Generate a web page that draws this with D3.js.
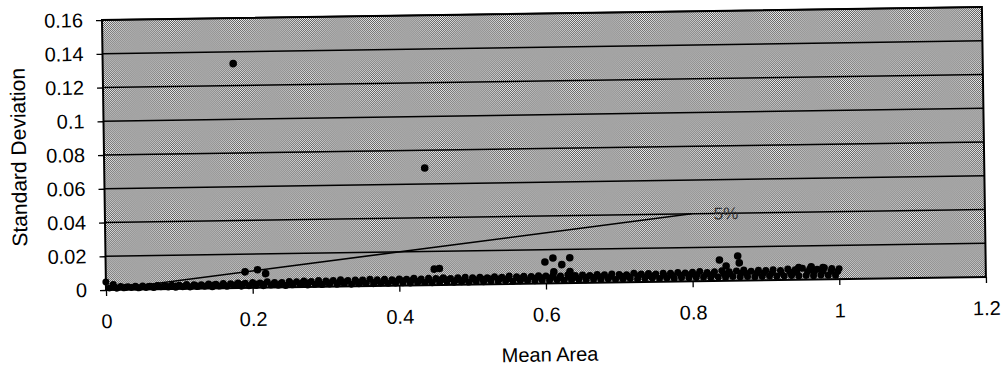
<!DOCTYPE html>
<html>
<head>
<meta charset="utf-8">
<script src="https://cdn.jsdelivr.net/npm/d3@7/dist/d3.min.js"></script>
<style>
  html, body { margin: 0; padding: 0; background: #fff; }
  svg { display: block; font-family: "Liberation Sans", Arial, sans-serif; }
</style>
</head>
<body>
<svg id="chart" width="1006" height="370"></svg>
<script>
// ---- data ----
const xTicks = [0, 0.2, 0.4, 0.6, 0.8, 1, 1.2];
const xTickLabels = ["0", "0.2", "0.4", "0.6", "0.8", "1", "1.2"];
const yTicks = [0, 0.02, 0.04, 0.06, 0.08, 0.1, 0.12, 0.14, 0.16];
const yTickLabels = ["0", "0.02", "0.04", "0.06", "0.08", "0.1", "0.12", "0.14", "0.16"];

// dense band of points, upper edge
const upperX = [0.00,0.01,0.02,0.03,0.04,0.05,0.06,0.07,0.08,0.09,
  0.10,0.11,0.12,0.13,0.14,0.15,0.16,0.17,0.18,0.19,
  0.20,0.21,0.22,0.23,0.24,0.25,0.26,0.27,0.28,0.29,
  0.30,0.31,0.32,0.33,0.34,0.35,0.36,0.37,0.38,0.39,
  0.40,0.41,0.42,0.43,0.44,0.45,0.46,0.47,0.48,0.49,
  0.50,0.51,0.52,0.53,0.54,0.55,0.56,0.57,0.58,0.59,
  0.60,0.61,0.62,0.63,0.64,0.65,0.66,0.67,0.68,0.69,
  0.70,0.71,0.72,0.73,0.74,0.75,0.76,0.77,0.78,0.79,
  0.80,0.81,0.82,0.83,0.84,0.85,0.86,0.87,0.88,0.89,
  0.90,0.91,0.92,0.93,0.94,0.95,0.96,0.97,0.98,0.99,1.00];
const upperY = [0.0048,0.0032,0.0020,0.0018,0.0019,0.0021,0.0018,0.0022,0.0020,0.0023,
  0.0022,0.0025,0.0024,0.0023,0.0027,0.0025,0.0028,0.0026,0.0030,0.0028,
  0.0031,0.0028,0.0034,0.0030,0.0029,0.0034,0.0032,0.0036,0.0033,0.0038,
  0.0034,0.0037,0.0040,0.0035,0.0038,0.0036,0.0041,0.0037,0.0039,0.0036,
  0.0040,0.0038,0.0042,0.0037,0.0041,0.0039,0.0043,0.0038,0.0041,0.0044,
  0.0040,0.0042,0.0039,0.0044,0.0041,0.0047,0.0042,0.0045,0.0043,0.0046,
  0.0044,0.0048,0.0043,0.0050,0.0045,0.0047,0.0044,0.0049,0.0046,0.0051,
  0.0047,0.0045,0.0053,0.0048,0.0050,0.0046,0.0051,0.0049,0.0054,0.0050,
  0.0053,0.0058,0.0051,0.0055,0.0060,0.0054,0.0057,0.0063,0.0055,0.0059,
  0.0057,0.0061,0.0056,0.0064,0.0059,0.0067,0.0063,0.0060,0.0068,0.0064,0.0062];

// dense band of points, middle
const middleX = [0.012,0.027,0.041,0.058,0.066,0.083,0.097,0.108,0.122,0.139,
  0.147,0.161,0.178,0.186,0.203,0.214,0.229,0.238,0.252,0.267,
  0.274,0.291,0.302,0.318,0.326,0.343,0.351,0.368,0.379,0.392,
  0.404,0.417,0.428,0.441,0.456,0.463,0.479,0.488,0.502,0.514,
  0.523,0.537,0.548,0.563,0.571,0.586,0.594,0.607,0.619,0.632,
  0.641,0.654,0.668,0.676,0.689,0.703,0.712,0.726,0.738,0.747,
  0.761,0.772,0.784,0.797,0.806,0.819,0.828,0.843,0.851,0.866,
  0.874,0.888,0.897,0.909,0.921,0.933,0.942,0.957,0.966,0.978,0.989,0.998];
const middleY = [0.0016,0.0014,0.0015,0.0017,0.0015,0.0016,0.0018,0.0017,0.0019,0.0018,
  0.0020,0.0019,0.0021,0.0020,0.0022,0.0021,0.0023,0.0022,0.0024,0.0023,
  0.0025,0.0024,0.0026,0.0025,0.0027,0.0026,0.0028,0.0027,0.0029,0.0028,
  0.0029,0.0030,0.0029,0.0031,0.0030,0.0032,0.0031,0.0030,0.0032,0.0031,
  0.0033,0.0032,0.0031,0.0034,0.0033,0.0032,0.0035,0.0034,0.0033,0.0036,
  0.0035,0.0034,0.0036,0.0035,0.0037,0.0036,0.0035,0.0038,0.0037,0.0036,
  0.0039,0.0038,0.0037,0.0040,0.0039,0.0041,0.0040,0.0042,0.0041,0.0043,
  0.0042,0.0044,0.0043,0.0045,0.0044,0.0046,0.0045,0.0047,0.0046,0.0048,0.0047,0.0046];

// dense band of points, lower edge
const lowerX = [0.005,0.015,0.025,0.035,0.045,0.055,0.065,0.075,0.085,0.095,
  0.105,0.115,0.125,0.135,0.145,0.155,0.165,0.175,0.185,0.195,
  0.205,0.215,0.225,0.235,0.245,0.255,0.265,0.275,0.285,0.295,
  0.305,0.315,0.325,0.335,0.345,0.355,0.365,0.375,0.385,0.395,
  0.405,0.415,0.425,0.435,0.445,0.455,0.465,0.475,0.485,0.495,
  0.505,0.515,0.525,0.535,0.545,0.555,0.565,0.575,0.585,0.595,
  0.605,0.615,0.625,0.635,0.645,0.655,0.665,0.675,0.685,0.695,
  0.705,0.715,0.725,0.735,0.745,0.755,0.765,0.775,0.785,0.795,
  0.805,0.815,0.825,0.835,0.845,0.855,0.865,0.875,0.885,0.895,
  0.905,0.915,0.925,0.935,0.945,0.955,0.965,0.975,0.985,0.995];
const lowerY = [0.0012,0.0010,0.0011,0.0013,0.0010,0.0012,0.0011,0.0014,0.0012,0.0010,
  0.0013,0.0011,0.0012,0.0014,0.0010,0.0013,0.0012,0.0015,0.0011,0.0013,
  0.0014,0.0012,0.0015,0.0013,0.0011,0.0014,0.0016,0.0012,0.0015,0.0013,
  0.0016,0.0014,0.0017,0.0013,0.0015,0.0016,0.0014,0.0018,0.0015,0.0016,
  0.0017,0.0015,0.0018,0.0016,0.0014,0.0017,0.0019,0.0016,0.0018,0.0015,
  0.0018,0.0016,0.0019,0.0017,0.0020,0.0016,0.0018,0.0019,0.0017,0.0020,
  0.0018,0.0021,0.0017,0.0019,0.0020,0.0018,0.0021,0.0019,0.0022,0.0018,
  0.0020,0.0022,0.0019,0.0021,0.0023,0.0020,0.0022,0.0019,0.0023,0.0021,
  0.0022,0.0024,0.0020,0.0023,0.0021,0.0025,0.0022,0.0024,0.0021,0.0023,
  0.0025,0.0022,0.0024,0.0026,0.0023,0.0025,0.0022,0.0026,0.0024,0.0023];

// isolated points above the band
const outlierX = [0.178, 0.437, 0.448, 0.455, 0.190, 0.207, 0.218,
  0.599, 0.610, 0.633, 0.622, 0.611, 0.633, 0.837, 0.862, 0.864, 0.846,
  0.945, 0.962, 0.978];
const outlierY = [0.133, 0.0695, 0.0095, 0.0098, 0.0095, 0.0107, 0.0083,
  0.0127, 0.0150, 0.0150, 0.0110, 0.0068, 0.0068, 0.0124, 0.0146, 0.0105, 0.0088,
  0.0072, 0.0075, 0.0070];

// 5% reference line
const refLineX = [0, 0.8];
const refLineY = [0, 0.04];
const refLabel = "5%";

// ---- drawing ----
const svg = d3.select("#chart");
const defs = svg.append("defs");
const pat = defs.append("pattern").attr("id", "dither")
  .attr("width", 2).attr("height", 2).attr("patternUnits", "userSpaceOnUse");
pat.append("rect").attr("width", 2).attr("height", 2).attr("fill", "#f2f2f2");
pat.append("rect").attr("x", 0).attr("y", 0).attr("width", 1).attr("height", 1).attr("fill", "#555");
pat.append("rect").attr("x", 1).attr("y", 1).attr("width", 1).attr("height", 1).attr("fill", "#555");

const L = 106, R = 986, T = 20, B = 290;
const x = d3.scaleLinear().domain([0, 1.2]).range([L, R]);
const y = d3.scaleLinear().domain([0, 0.16]).range([B, T]);

const g = svg.append("g").attr("transform", `rotate(-0.85, ${L}, ${B})`);

g.append("rect").attr("x", L).attr("y", T).attr("width", R - L).attr("height", B - T)
  .attr("fill", "url(#dither)");

// gridlines
g.append("g").selectAll("line").data(yTicks.slice(1)).join("line")
  .attr("x1", L).attr("x2", R).attr("y1", d => y(d)).attr("y2", d => y(d))
  .attr("stroke", "#000").attr("stroke-width", 1.4);

// axes
const xAxis = d3.axisBottom(x).tickValues(xTicks).tickSize(6).tickPadding(18)
  .tickFormat((d, i) => xTickLabels[i]);
const yAxis = d3.axisLeft(y).tickValues(yTicks).tickSize(6).tickPadding(13)
  .tickFormat((d, i) => yTickLabels[i]);

const gx = g.append("g").attr("transform", `translate(0,${B})`).call(xAxis);
const gy = g.append("g").attr("transform", `translate(${L},0)`).call(yAxis);
[gx, gy].forEach(a => {
  a.select(".domain").remove();
  a.selectAll(".tick line").attr("stroke", "#000").attr("stroke-width", 1.3);
  a.selectAll(".tick text").attr("fill", "#000").attr("font-size", 20)
    .attr("font-family", "'Liberation Sans', Arial, sans-serif");
});

// border
g.append("rect").attr("x", L).attr("y", T).attr("width", R - L).attr("height", B - T)
  .attr("fill", "none").attr("stroke", "#000").attr("stroke-width", 2);

// reference line
const line = d3.line().x(d => x(d[0])).y(d => y(d[1]));
g.append("path").datum(refLineX.map((v, i) => [v, refLineY[i]]))
  .attr("d", line).attr("fill", "none").attr("stroke", "#000").attr("stroke-width", 1.6);
g.append("text").attr("x", x(refLineX[1]) + 22).attr("y", y(refLineY[1]) + 6)
  .attr("font-size", 17).attr("fill", "#333").text(refLabel);

// points
const pts = [];
upperX.forEach((v, i) => pts.push([v, upperY[i], 3.5]));
middleX.forEach((v, i) => pts.push([v, middleY[i], 3.5]));
lowerX.forEach((v, i) => pts.push([v, lowerY[i], 3.5]));
outlierX.forEach((v, i) => pts.push([v, outlierY[i], 3.8]));
g.append("g").selectAll("circle").data(pts).join("circle")
  .attr("cx", d => x(d[0])).attr("cy", d => y(d[1])).attr("r", d => d[2])
  .attr("fill", "#000");

// axis titles
g.append("text").attr("x", 549).attr("y", 368).attr("text-anchor", "middle")
  .attr("font-size", 20).attr("fill", "#000").text("Mean Area");
g.append("text").attr("transform", "translate(28,156) rotate(-90)").attr("text-anchor", "middle")
  .attr("font-size", 21).attr("fill", "#000").text("Standard Deviation");
</script>
</body>
</html>
